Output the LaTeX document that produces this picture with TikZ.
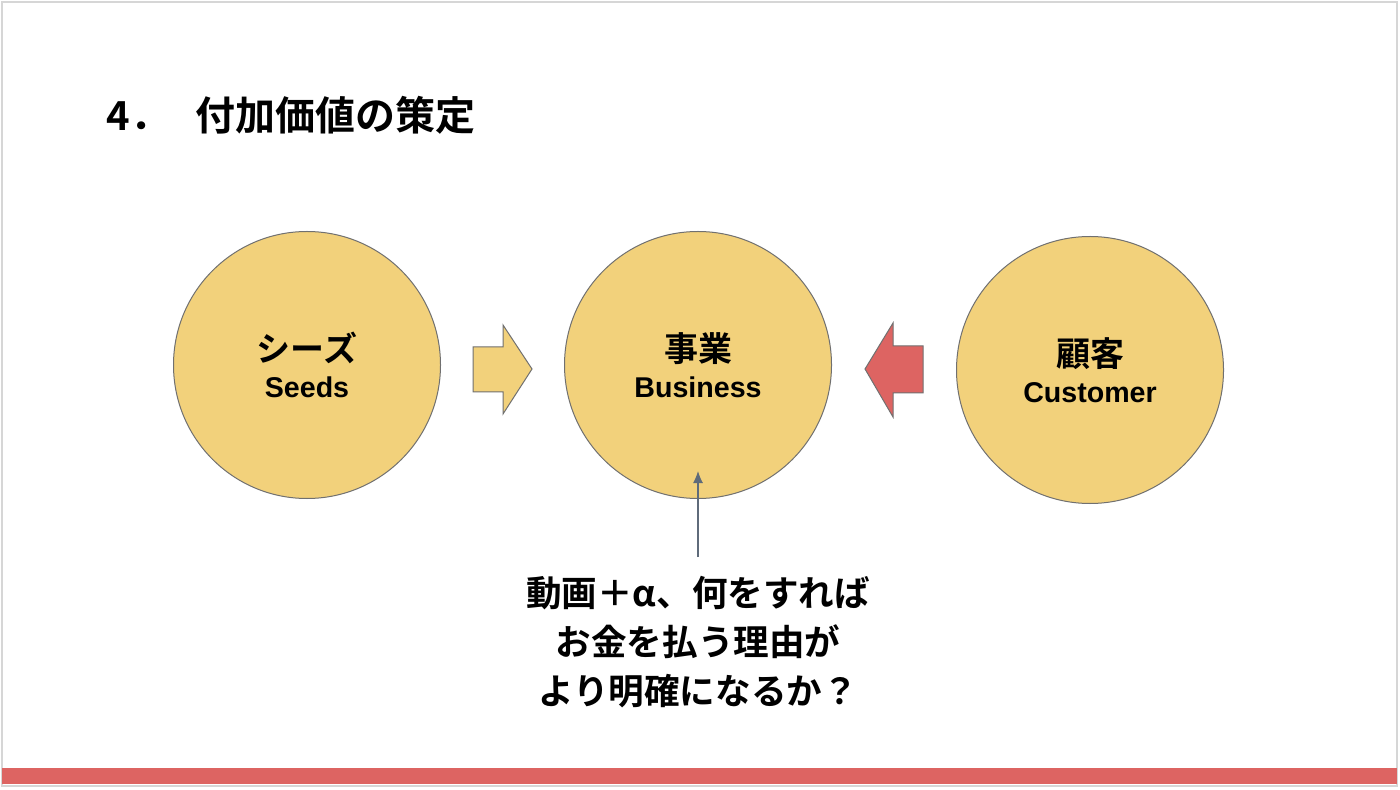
\documentclass[tikz,border=0pt]{standalone}
\usepackage{fontspec}
\usetikzlibrary{arrows.meta}
\setmainfont{Noto Sans CJK JP}[BoldFont={* Bold}]
\newfontfamily\latinf{Liberation Sans}
\definecolor{circfill}{HTML}{F2D17B}
\definecolor{redc}{HTML}{DD6462}
\definecolor{edgec}{HTML}{707070}
\definecolor{arrc}{HTML}{5F6B7A}
\definecolor{framec}{HTML}{D6D6D6}
\newcommand{\circtext}[2]{{\bfseries\fontsize{17pt}{17pt}\selectfont #1}\\[1pt]{\latinf\bfseries\fontsize{14.3pt}{17pt}\selectfont #2}}
\begin{document}
\begin{tikzpicture}[x=0.5pt,y=-0.5pt,
  circ/.style={circle,draw=edgec,line width=0.5pt,fill=circfill,minimum size=267*0.5pt,inner sep=0pt,align=center,font=\fontsize{17pt}{17pt}\selectfont},
  blockarrow/.style={draw=edgec,line width=0.5pt,line join=miter},
  txt/.style={inner sep=0pt,font=\bfseries}]
\useasboundingbox (0,0) rectangle (1400,790);
\fill[white] (0,0) rectangle (1400,790);
\draw[framec,line width=1.2pt] (2,2) rectangle (1397,786);
\fill[redc] (2,768) rectangle (1397,784);
\node[txt,anchor=west,font=\bfseries\fontsize{20pt}{24pt}\selectfont] (title) at (106,115) {4．\hspace{0.63em}付加価値の策定};
\node[circ] (seeds) at (307,365) {\circtext{シーズ}{Seeds}};
\node[circ] (biz) at (698,365) {\circtext{事業}{Business}};
\node[circ] (cust) at (1090,370) {\circtext{顧客}{Customer}};
\draw[blockarrow,fill=circfill] (473,347) -- (503,347) -- (503,325) -- (532,369) -- (503,414) -- (503,392) -- (473,392) -- cycle;
\draw[blockarrow,fill=redc] (923,346) -- (893,346) -- (893,323) -- (865,369) -- (893,417) -- (893,393) -- (923,393) -- cycle;
\coordinate (qbase) at (698,557);
\draw[arrc,line width=0.6pt,-{Latex[length=6pt,width=5pt]}] (qbase) -- (698,471);
\node[txt,align=center,font=\bfseries\fontsize{17.8pt}{24.5pt}\selectfont] (question) at (698,642) {動画＋α、何をすれば\\お金を払う理由が\\より明確になるか？};
\end{tikzpicture}
\end{document}
